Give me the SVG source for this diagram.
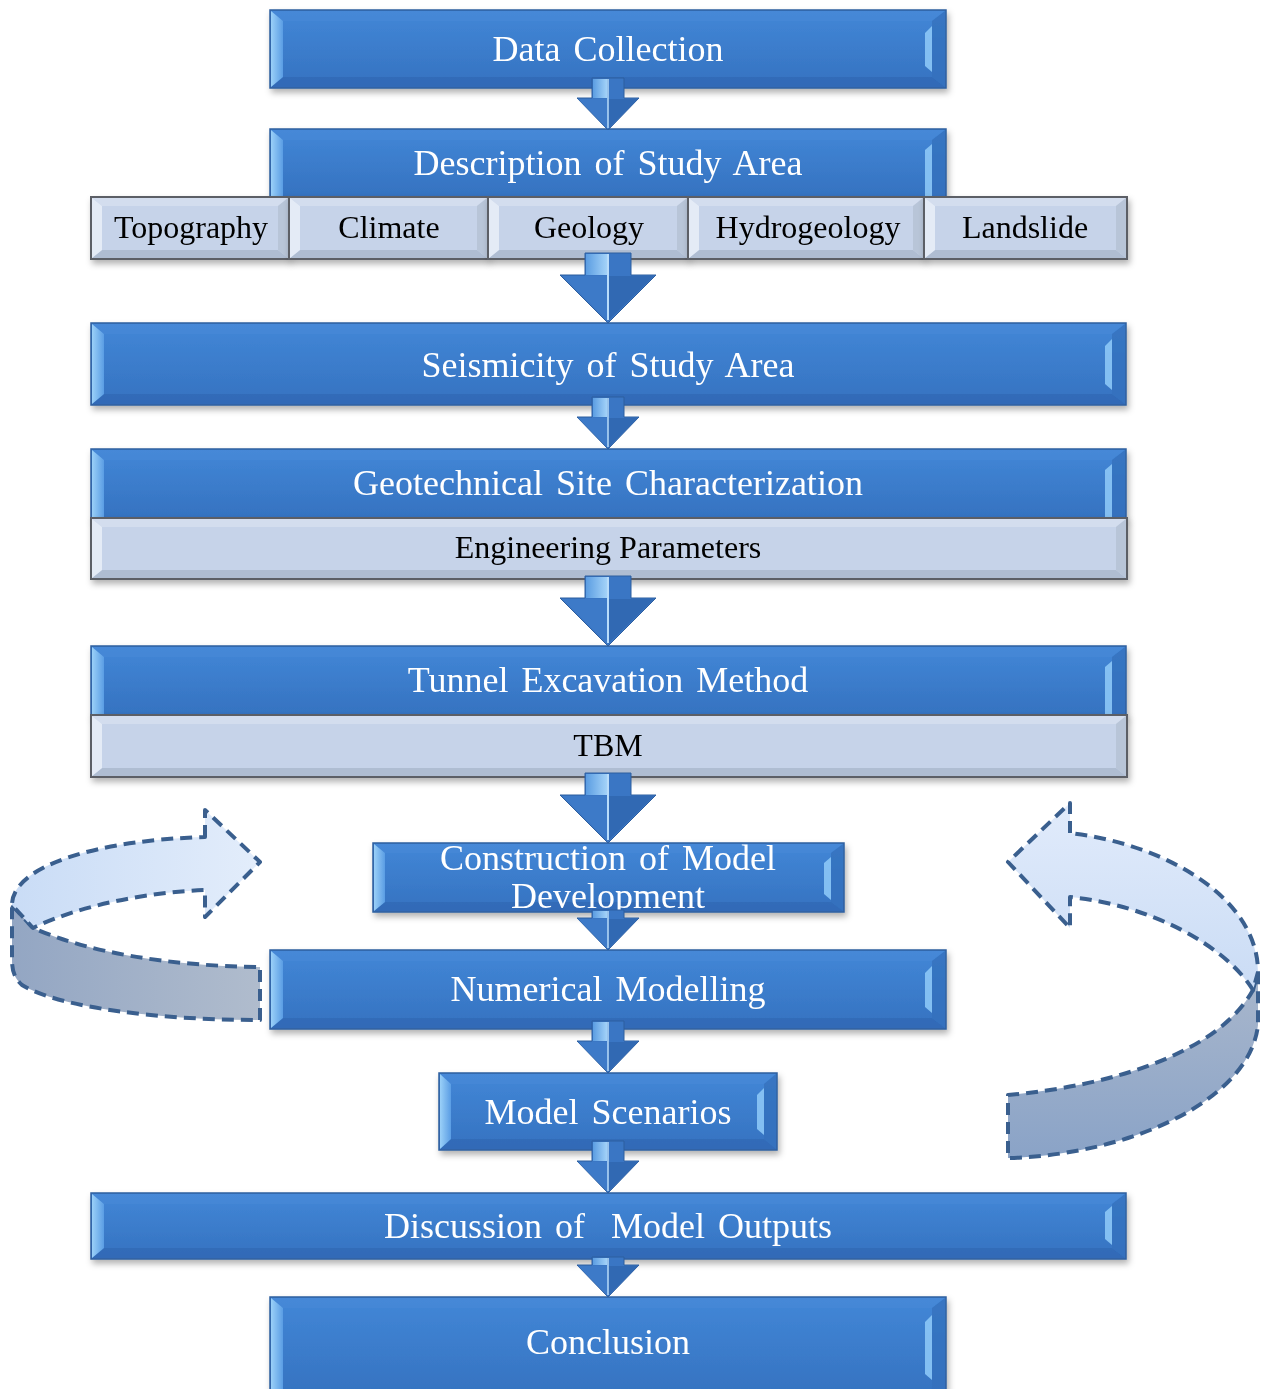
<svg xmlns="http://www.w3.org/2000/svg" width="1263" height="1389" viewBox="0 0 1263 1389">
<defs>
<style>
.blue{fill:url(#gBlue);stroke:#2f5f9e;stroke-width:1.5}
.bl{fill:url(#gBL)}
.bt{fill:#4a8ad8;opacity:.5}
.bb{fill:#2f66b0;opacity:.6}
.br{fill:#3570bd;opacity:.8}
.bh{fill:#8cc6f6;opacity:.9}
.grey{fill:#c6d3e9;stroke:#5b5f66;stroke-width:2}
.gl{fill:#e4ebf6}
.gt{fill:#d3ddee}
.gb{fill:#afbdd2}
.gr{fill:#b8c5d8}
.tw{font-family:"Liberation Serif","Times New Roman",serif;font-size:36px;word-spacing:4px;fill:#fff;text-anchor:middle}
.tb{font-family:"Liberation Serif","Times New Roman",serif;font-size:32px;fill:#000;text-anchor:middle}
.dash{stroke:#3a5f8e;stroke-width:4;stroke-dasharray:12 7;stroke-linejoin:round}
</style>
<linearGradient id="gBlue" x1="0" y1="0" x2="0" y2="1">
<stop offset="0" stop-color="#4287d7"/><stop offset="1" stop-color="#3572c0"/>
</linearGradient>
<linearGradient id="gBL" x1="0" y1="0" x2="1" y2="0">
<stop offset="0" stop-color="#9ad0f8"/><stop offset="1" stop-color="#5a9de4"/>
</linearGradient>
<linearGradient id="gShaft" x1="0" y1="0" x2="1" y2="0">
<stop offset="0" stop-color="#5b9de2"/><stop offset="1" stop-color="#a3d2f8"/>
</linearGradient>
<linearGradient id="gUpL" x1="0" y1="0" x2="1" y2="0">
<stop offset="0" stop-color="#c9dcf6"/><stop offset="1" stop-color="#e3edfb"/>
</linearGradient>
<linearGradient id="gLoL" x1="0" y1="0" x2="1" y2="0">
<stop offset="0" stop-color="#93a6c3"/><stop offset="1" stop-color="#b0bccd"/>
</linearGradient>
<linearGradient id="gUpR" x1="0" y1="0" x2="0" y2="1">
<stop offset="0" stop-color="#e1ebfb"/><stop offset="1" stop-color="#cadcf5"/>
</linearGradient>
<linearGradient id="gLoR" x1="0" y1="0" x2="0" y2="1">
<stop offset="0" stop-color="#a9b7cc"/><stop offset="1" stop-color="#8aa3c7"/>
</linearGradient>
<filter id="sh" x="-5%" y="-20%" width="110%" height="150%">
<feDropShadow dx="2" dy="4" stdDeviation="3" flood-color="#000" flood-opacity="0.3"/>
</filter>
<g id="arrS">
<path d="M-16,-52 H16 V-32 H31 L0,0 L-31,-32 H-16 Z" fill="#3a76c4" stroke="#2d5e9f" stroke-width="1"/>
<rect x="-15" y="-51" width="14" height="19" fill="url(#gShaft)"/>
<polygon points="-30,-31 0,-31 0,-1" fill="#3d7ac8"/>
<polygon points="0,-31 30,-31 0,-1" fill="#3169b3"/>
<line x1="0" y1="-51" x2="0" y2="-2" stroke="#b9dcfa" stroke-width="1.5"/>
</g>
<g id="arrT">
<path d="M-16,-40 H16 V-32 H31 L0,0 L-31,-32 H-16 Z" fill="#3a76c4" stroke="#2d5e9f" stroke-width="1"/>
<rect x="-15" y="-39" width="14" height="7" fill="url(#gShaft)"/>
<polygon points="-30,-31 0,-31 0,-1" fill="#3d7ac8"/>
<polygon points="0,-31 30,-31 0,-1" fill="#3169b3"/>
<line x1="0" y1="-39" x2="0" y2="-2" stroke="#b9dcfa" stroke-width="1.5"/>
</g>
<g id="arrL">
<path d="M-23,-70 H23 V-48 H48 L0,0 L-48,-48 H-23 Z" fill="#3a76c4" stroke="#2d5e9f" stroke-width="1"/>
<rect x="-22" y="-69" width="21" height="21" fill="url(#gShaft)"/>
<polygon points="-46,-47 0,-47 0,-2" fill="#3d7ac8"/>
<polygon points="0,-47 46,-47 0,-2" fill="#3169b3"/>
<line x1="0" y1="-69" x2="0" y2="-3" stroke="#b9dcfa" stroke-width="2"/>
</g>
</defs>
<rect width="1263" height="1389" fill="#fff"/>

<g id="loop-left">
<path class="dash" fill="url(#gLoL)" d="M12,905 L33,928 C90,953 170,966 260,967 L260,1020 C160,1020 60,1008 22,985 C14,978 12,970 12,960 Z"/>
<path class="dash" fill="url(#gUpL)" d="M205,837 L205,810 L260,862 L205,917 L205,890 C150,892 80,905 33,928 L12,905 C12,865 100,840 205,837 Z"/>
</g>
<g id="loop-right">
<path class="dash" fill="url(#gLoR)" d="M1253,990 L1258,972 L1258,1025 C1250,1100 1130,1155 1008,1158 L1008,1095 C1120,1085 1220,1050 1253,990 Z"/>
<path class="dash" fill="url(#gUpR)" d="M1070,833 L1070,803 L1008,862 L1070,928 L1070,897 C1150,905 1225,945 1253,990 L1258,972 C1258,900 1170,845 1070,833 Z"/>
</g>

<g id="n-data" filter="url(#sh)">
<rect class="blue" x="270" y="10" width="676" height="78"/>
<polygon class="bt" points="271,11 945,11 932,21 283,21"/>
<polygon class="bb" points="271,87 283,77 932,77 945,87"/>
<polygon class="bl" points="271,11 283,21 283,77 271,87"/>
<polygon class="br" points="945,11 945,87 932,77 932,21"/>
<polygon class="bh" points="925,33 932,26 932,72 925,66"/>
<text class="tw" x="608" y="61">Data Collection</text>
</g>

<g id="n-desc" filter="url(#sh)">
<rect class="blue" x="270" y="129" width="676" height="68"/>
<polygon class="bt" points="271,130 945,130 932,140 283,140"/>
<polygon class="bl" points="271,130 283,140 283,197 271,197"/>
<polygon class="br" points="945,130 945,197 932,197 932,140"/>
<polygon class="bh" points="925,150 932,144 932,197 925,197"/>
<text class="tw" x="608" y="175">Description of Study Area</text>
</g>

<g id="n-topo" filter="url(#sh)">
<rect class="grey" x="91" y="197" width="198" height="62"/>
<polygon class="gt" points="92,198 288,198 278,206 102,206"/>
<polygon class="gb" points="92,258 102,250 278,250 288,258"/>
<polygon class="gl" points="92,198 102,206 102,250 92,258"/>
<polygon class="gr" points="288,198 288,258 278,250 278,206"/>
<text class="tb" x="191" y="238">Topography</text>
</g>
<g id="n-climate" filter="url(#sh)">
<rect class="grey" x="289" y="197" width="199" height="62"/>
<polygon class="gt" points="290,198 487,198 477,206 300,206"/>
<polygon class="gb" points="290,258 300,250 477,250 487,258"/>
<polygon class="gl" points="290,198 300,206 300,250 290,258"/>
<polygon class="gr" points="487,198 487,258 477,250 477,206"/>
<text class="tb" x="389" y="238">Climate</text>
</g>
<g id="n-geology" filter="url(#sh)">
<rect class="grey" x="488" y="197" width="200" height="62"/>
<polygon class="gt" points="489,198 687,198 677,206 499,206"/>
<polygon class="gb" points="489,258 499,250 677,250 687,258"/>
<polygon class="gl" points="489,198 499,206 499,250 489,258"/>
<polygon class="gr" points="687,198 687,258 677,250 677,206"/>
<text class="tb" x="589" y="238">Geology</text>
</g>
<g id="n-hydro" filter="url(#sh)">
<rect class="grey" x="688" y="197" width="236" height="62"/>
<polygon class="gt" points="689,198 923,198 913,206 699,206"/>
<polygon class="gb" points="689,258 699,250 913,250 923,258"/>
<polygon class="gl" points="689,198 699,206 699,250 689,258"/>
<polygon class="gr" points="923,198 923,258 913,250 913,206"/>
<text class="tb" x="808" y="238">Hydrogeology</text>
</g>
<g id="n-landslide" filter="url(#sh)">
<rect class="grey" x="924" y="197" width="203" height="62"/>
<polygon class="gt" points="925,198 1126,198 1116,206 935,206"/>
<polygon class="gb" points="925,258 935,250 1116,250 1126,258"/>
<polygon class="gl" points="925,198 935,206 935,250 925,258"/>
<polygon class="gr" points="1126,198 1126,258 1116,250 1116,206"/>
<text class="tb" x="1025" y="238">Landslide</text>
</g>

<g id="n-seis" filter="url(#sh)">
<rect class="blue" x="91" y="323" width="1035" height="82"/>
<polygon class="bt" points="92,324 1125,324 1112,334 104,334"/>
<polygon class="bb" points="92,404 104,394 1112,394 1125,404"/>
<polygon class="bl" points="92,324 104,334 104,394 92,404"/>
<polygon class="br" points="1125,324 1125,404 1112,394 1112,334"/>
<polygon class="bh" points="1105,346 1112,339 1112,390 1105,384"/>
<text class="tw" x="608" y="377">Seismicity of Study Area</text>
</g>

<g id="n-geotech" filter="url(#sh)">
<rect class="blue" x="91" y="449" width="1035" height="70"/>
<polygon class="bt" points="92,450 1125,450 1112,460 104,460"/>
<polygon class="bl" points="92,450 104,460 104,519 92,519"/>
<polygon class="br" points="1125,450 1125,519 1112,519 1112,460"/>
<polygon class="bh" points="1105,470 1112,464 1112,519 1105,519"/>
<text class="tw" x="608" y="495">Geotechnical Site Characterization</text>
</g>
<g id="n-eng" filter="url(#sh)">
<rect class="grey" x="91" y="518" width="1036" height="61"/>
<polygon class="gt" points="92,519 1126,519 1116,527 102,527"/>
<polygon class="gb" points="92,578 102,570 1116,570 1126,578"/>
<polygon class="gl" points="92,519 102,527 102,570 92,578"/>
<polygon class="gr" points="1126,519 1126,578 1116,570 1116,527"/>
<text class="tb" x="608" y="558">Engineering Parameters</text>
</g>

<g id="n-tunnel" filter="url(#sh)">
<rect class="blue" x="91" y="646" width="1035" height="70"/>
<polygon class="bt" points="92,647 1125,647 1112,657 104,657"/>
<polygon class="bl" points="92,647 104,657 104,716 92,716"/>
<polygon class="br" points="1125,647 1125,716 1112,716 1112,657"/>
<polygon class="bh" points="1105,667 1112,661 1112,716 1105,716"/>
<text class="tw" x="608" y="692">Tunnel Excavation Method</text>
</g>
<g id="n-tbm" filter="url(#sh)">
<rect class="grey" x="91" y="715" width="1036" height="62"/>
<polygon class="gt" points="92,716 1126,716 1116,724 102,724"/>
<polygon class="gb" points="92,776 102,768 1116,768 1126,776"/>
<polygon class="gl" points="92,716 102,724 102,768 92,776"/>
<polygon class="gr" points="1126,716 1126,776 1116,768 1116,724"/>
<text class="tb" x="608" y="756">TBM</text>
</g>

<g id="n-construct" filter="url(#sh)">
<rect class="blue" x="373" y="843" width="471" height="69"/>
<polygon class="bt" points="374,844 843,844 831,853 385,853"/>
<polygon class="bb" points="374,911 385,902 831,902 843,911"/>
<polygon class="bl" points="374,844 385,853 385,902 374,911"/>
<polygon class="br" points="843,844 843,911 831,902 831,853"/>
<polygon class="bh" points="824,863 831,857 831,900 824,894"/>
<text class="tw" x="608" y="870">Construction of Model</text>
<text class="tw" x="608" y="908">Development</text>
</g>

<g id="n-numerical" filter="url(#sh)">
<rect class="blue" x="270" y="950" width="676" height="79"/>
<polygon class="bt" points="271,951 945,951 932,961 283,961"/>
<polygon class="bb" points="271,1028 283,1018 932,1018 945,1028"/>
<polygon class="bl" points="271,951 283,961 283,1018 271,1028"/>
<polygon class="br" points="945,951 945,1028 932,1018 932,961"/>
<polygon class="bh" points="925,973 932,966 932,1013 925,1007"/>
<text class="tw" x="608" y="1001">Numerical Modelling</text>
</g>

<g id="n-scenarios" filter="url(#sh)">
<rect class="blue" x="439" y="1073" width="338" height="77"/>
<polygon class="bt" points="440,1074 776,1074 764,1084 451,1084"/>
<polygon class="bb" points="440,1149 451,1139 764,1139 776,1149"/>
<polygon class="bl" points="440,1074 451,1084 451,1139 440,1149"/>
<polygon class="br" points="776,1074 776,1149 764,1139 764,1084"/>
<polygon class="bh" points="757,1095 764,1088 764,1135 757,1129"/>
<text class="tw" x="608" y="1124">Model Scenarios</text>
</g>

<g id="n-discussion" filter="url(#sh)">
<rect class="blue" x="91" y="1193" width="1035" height="66"/>
<polygon class="bt" points="92,1194 1125,1194 1112,1204 104,1204"/>
<polygon class="bb" points="92,1258 104,1248 1112,1248 1125,1258"/>
<polygon class="bl" points="92,1194 104,1204 104,1248 92,1258"/>
<polygon class="br" points="1125,1194 1125,1258 1112,1248 1112,1204"/>
<polygon class="bh" points="1105,1212 1112,1206 1112,1245 1105,1239"/>
<text class="tw" x="608" y="1238" xml:space="preserve">Discussion of  Model Outputs</text>
</g>

<g id="n-conclusion" filter="url(#sh)">
<rect class="blue" x="270" y="1297" width="676" height="100"/>
<polygon class="bt" points="271,1298 945,1298 932,1308 283,1308"/>
<polygon class="bl" points="271,1298 283,1308 283,1389 271,1389"/>
<polygon class="br" points="945,1298 945,1389 932,1389 932,1308"/>
<polygon class="bh" points="925,1322 932,1315 932,1380 925,1374"/>
<text class="tw" x="608" y="1354">Conclusion</text>
</g>

<g id="connectors">
<use href="#arrS" transform="translate(608,130)"/>
<use href="#arrL" transform="translate(608,323)"/>
<use href="#arrS" transform="translate(608,449)"/>
<use href="#arrL" transform="translate(608,646)"/>
<use href="#arrL" transform="translate(608,843)"/>
<use href="#arrT" transform="translate(608,950)"/>
<use href="#arrS" transform="translate(608,1073)"/>
<use href="#arrS" transform="translate(608,1193)"/>
<use href="#arrT" transform="translate(608,1297)"/>
</g>
</svg>
